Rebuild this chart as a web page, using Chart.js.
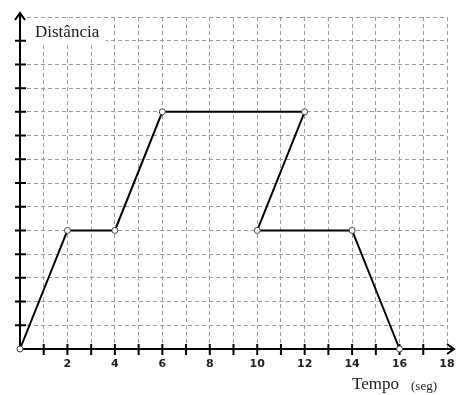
<!DOCTYPE html>
<html>
<head>
<meta charset="utf-8">
<script src="https://cdn.jsdelivr.net/npm/chart.js@4.4.1/dist/chart.umd.min.js"></script>
<style>
  html, body { margin: 0; padding: 0; background: #fff; }
  #wrap { width: 456px; height: 395px; position: relative; }
</style>
</head>
<body>
<div id="wrap"><canvas id="chart"></canvas></div>
<script>
// tempo (seg) e distância de cada vértice, na ordem do percurso
const tempo = [0, 2, 4, 6, 12, 10, 14, 16];
const distancia = [0, 5, 5, 10, 10, 5, 5, 0];
const xLabels = [2, 4, 6, 8, 10, 12, 14, 16, 18];
const xMax = 18;
const yMax = 14;

const points = tempo.map((t, i) => ({ x: t, y: distancia[i] }));

// eixos pretos com marcas e setas (abaixo da linha), textos por cima
const axesPlugin = {
  id: 'axes',
  beforeDatasetsDraw(chart) {
    const { ctx, chartArea, scales } = chart;
    const x0 = scales.x.getPixelForValue(0);
    const y0 = scales.y.getPixelForValue(0);
    ctx.save();
    ctx.strokeStyle = '#000';
    ctx.lineWidth = 2;

    ctx.beginPath();
    ctx.moveTo(x0, y0);
    ctx.lineTo(chartArea.right + 7, y0);
    ctx.moveTo(x0, y0);
    ctx.lineTo(x0, chartArea.top - 4);
    ctx.stroke();

    // setas
    ctx.beginPath();
    ctx.moveTo(chartArea.right, y0 - 5);
    ctx.lineTo(chartArea.right + 7, y0);
    ctx.lineTo(chartArea.right, y0 + 5);
    ctx.moveTo(x0 - 5, chartArea.top + 3);
    ctx.lineTo(x0, chartArea.top - 4);
    ctx.lineTo(x0 + 5, chartArea.top + 3);
    ctx.stroke();

    // marcas
    ctx.beginPath();
    for (let v = 1; v < xMax; v++) {
      const px = scales.x.getPixelForValue(v);
      ctx.moveTo(px, y0 - 5);
      ctx.lineTo(px, y0 + 6);
    }
    for (let v = 1; v < yMax; v++) {
      const py = scales.y.getPixelForValue(v);
      ctx.moveTo(x0 - 5, py);
      ctx.lineTo(x0 + 6, py);
    }
    ctx.stroke();
    ctx.restore();
  },
  afterDatasetsDraw(chart) {
    const { ctx } = chart;
    ctx.save();
    ctx.fillStyle = '#fff';
    ctx.fillRect(26, 18, 80, 24);
    ctx.fillStyle = '#1a1a1a';
    ctx.textBaseline = 'alphabetic';
    ctx.font = '17px "Liberation Serif", "Times New Roman", serif';
    ctx.fillText('Distância', 35, 37);
    ctx.fillText('Tempo', 352, 389);
    ctx.font = '13px "Liberation Serif", "Times New Roman", serif';
    ctx.fillText('(seg)', 411, 390);
    ctx.restore();
  }
};

new Chart(document.getElementById('chart'), {
  type: 'scatter',
  data: {
    datasets: [{
      data: points,
      showLine: true,
      borderColor: '#000',
      borderWidth: 2,
      tension: 0,
      pointRadius: 3,
      pointBorderWidth: 1,
      pointBackgroundColor: '#fff',
      pointBorderColor: '#444',
      clip: false,
    }],
  },
  options: {
    responsive: true,
    maintainAspectRatio: false,
    animation: false,
    layout: { padding: { left: 0, right: 0, top: 17, bottom: 0 } },
    plugins: { legend: { display: false }, tooltip: { enabled: false } },
    scales: {
      x: {
        type: 'linear',
        min: 0,
        max: xMax,
        afterBuildTicks: (scale) => {
          scale.ticks = Array.from({ length: xMax + 1 }, (_, i) => ({ value: i }));
        },
        afterFit: (scale) => {
          scale.height = 46;
          scale.paddingRight = 9;
        },
        grid: { color: '#9a9a9a', lineWidth: 1, drawTicks: false },
        border: { display: false, dash: [4, 3] },
        ticks: {
          padding: 9,
          maxRotation: 0,
          autoSkip: false,
          color: '#222',
          font: { family: '"DejaVu Sans", Verdana, sans-serif', size: 11, weight: 'bold' },
          callback: (v) => (xLabels.includes(v) ? String(v) : ''),
        },
      },
      y: {
        type: 'linear',
        min: 0,
        max: yMax,
        afterBuildTicks: (scale) => {
          scale.ticks = Array.from({ length: yMax + 1 }, (_, i) => ({ value: i }));
        },
        afterFit: (scale) => { scale.width = 20; },
        grid: { color: '#9a9a9a', lineWidth: 1, drawTicks: false },
        border: { display: false, dash: [4, 3] },
        ticks: { display: false },
      },
    },
  },
  plugins: [axesPlugin],
});
</script>
</body>
</html>
